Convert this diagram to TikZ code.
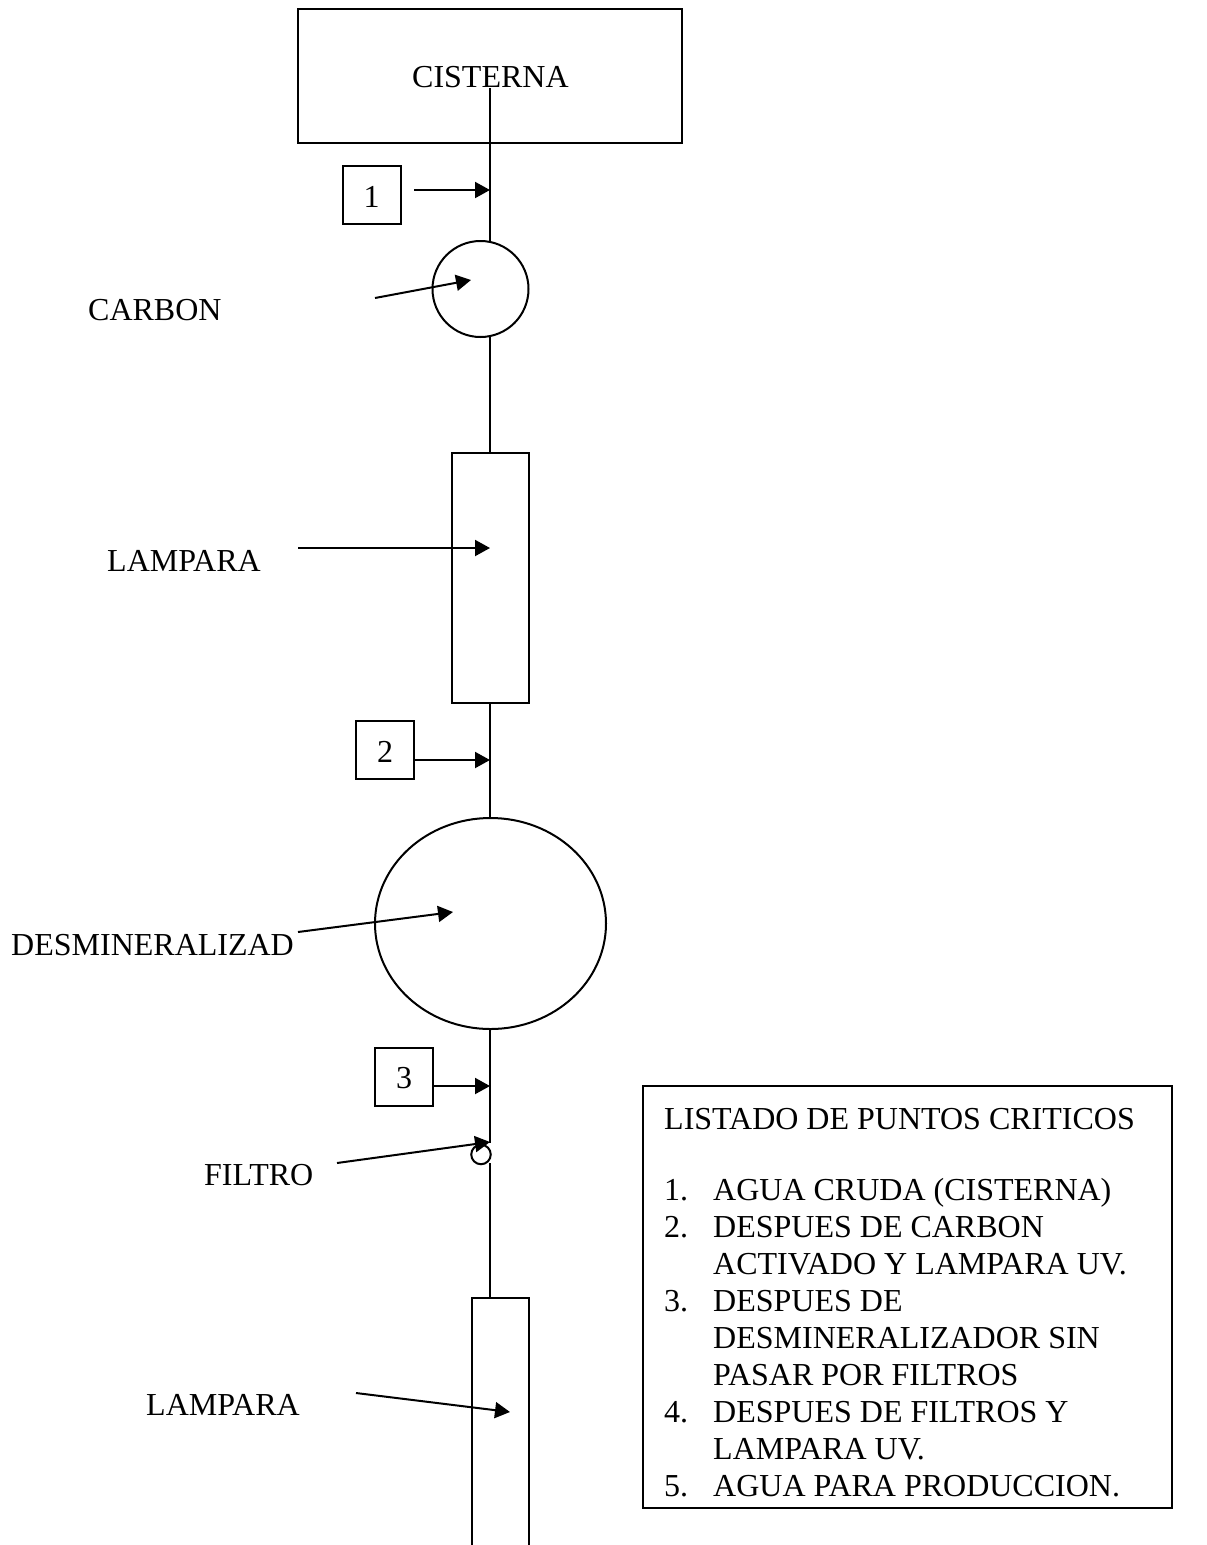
\documentclass[tikz,border=0pt]{standalone}
\usepackage{fontspec}
\setmainfont{Liberation Serif}
\usetikzlibrary{arrows.meta,shapes.geometric}
\begin{document}
\begin{tikzpicture}[x=1pt,y=-1pt,
  ln/.style={draw=black,line width=2pt},
  arr/.style={draw=black,line width=2pt,-{Triangle[length=15pt,width=16pt]}},
  lbl/.style={font=\fontsize{32}{38}\selectfont,inner sep=0pt,text=black,anchor=base west},
  shp/.style={draw=black,line width=2pt,inner sep=0pt,outer sep=0pt},
  numbox/.style={shp,minimum width=58pt,minimum height=58pt,text height=24pt,text depth=0pt,font=\fontsize{32}{38}\selectfont}]
\useasboundingbox (0,0) rectangle (1207,1545);
\fill[white] (0,0) rectangle (1207,1545);
% shapes
\node[shp,minimum width=384pt,minimum height=134pt] (cist) at (490,76) {};
\node[lbl] (cistl) at (412,87) {CISTERNA};
\node[numbox] (b1) at (371.5,195) {1};
\node[shp,circle,minimum size=96pt] (carb) at (480.5,289) {};
\node[shp,minimum width=77pt,minimum height=250pt] (lamp1) at (490.5,578) {};
\node[numbox] (b2) at (385,750) {2};
\node[shp,ellipse,minimum width=231pt,minimum height=211pt] (des) at (490.5,923.5) {};
\node[numbox] (b3) at (404,1076.5) {3};
\node[shp,circle,minimum size=19.5pt] (filt) at (481,1154.5) {};
% pipe
\coordinate (p0) at (490,88);
\coordinate (p1) at (490,241);
\coordinate (p2) at (490,337);
\coordinate (p3) at (490,453);
\coordinate (p4) at (490,703);
\coordinate (p5) at (490,818);
\coordinate (p6) at (490,1029);
\coordinate (p7) at (490,1143);
\coordinate (p8) at (490,1163);
\coordinate (p9) at (490,1298);
\draw[ln] (p0)--(p1);
\draw[ln] (p2)--(p3);
\draw[ln] (p4)--(p5);
\draw[ln] (p6)--(p7);
\draw[ln] (p8)--(p9);
% lower lamp (open at the bottom)
\coordinate (l2a) at (471.5,1545);
\coordinate (l2b) at (471.5,1298);
\coordinate (l2c) at (529,1298);
\coordinate (l2d) at (529,1545);
\draw[ln] (l2a)--(l2b)--(l2c)--(l2d);
% labels
\node[lbl] (tcarb) at (88,320) {CARBON};
\node[lbl] (tl1) at (107,571) {LAMPARA};
\node[lbl] (tdes) at (11,955) {DESMINERALIZAD};
\node[lbl] (tfil) at (204,1185) {FILTRO};
\node[lbl] (tl2) at (146,1415) {LAMPARA};
% arrows
\coordinate (a1s) at (414,190); \coordinate (a1e) at (490,190);
\coordinate (a2s) at (375,298); \coordinate (a2e) at (471,280);
\coordinate (a3s) at (298,548); \coordinate (a3e) at (490,548);
\coordinate (a4e) at (490,760);
\coordinate (a5s) at (298,932); \coordinate (a5e) at (453,912);
\coordinate (a6e) at (490,1086);
\coordinate (a7s) at (337,1163); \coordinate (a7e) at (490,1142);
\coordinate (a8s) at (356,1393); \coordinate (a8e) at (510,1412);
\draw[arr] (a1s)--(a1e);
\draw[arr] (a2s)--(a2e);
\draw[arr] (a3s)--(a3e);
\draw[arr] (b2.east |- a4e)--(a4e);
\draw[arr] (a5s)--(a5e);
\draw[arr] (b3.east |- a6e)--(a6e);
\draw[arr] (a7s)--(a7e);
\draw[arr] (a8s)--(a8e);
% list box
\node[shp,minimum width=529pt,minimum height=422pt] (list) at (907.5,1297) {};
\node[lbl] (h0) at (664,1129) {LISTADO DE PUNTOS CRITICOS};
\node[lbl] (n1) at (664,1200) {1.};
\node[lbl] (r1) at (713,1200) {AGUA CRUDA (CISTERNA)};
\node[lbl] (n2) at (664,1237) {2.};
\node[lbl] (r2) at (713,1237) {DESPUES DE CARBON};
\node[lbl] (r2b) at (713,1274) {ACTIVADO Y LAMPARA UV.};
\node[lbl] (n3) at (664,1311) {3.};
\node[lbl] (r3) at (713,1311) {DESPUES DE};
\node[lbl] (r3b) at (713,1348) {DESMINERALIZADOR SIN};
\node[lbl] (r3c) at (713,1385) {PASAR POR FILTROS};
\node[lbl] (n4) at (664,1422) {4.};
\node[lbl] (r4) at (713,1422) {DESPUES DE FILTROS Y};
\node[lbl] (r4b) at (713,1459) {LAMPARA UV.};
\node[lbl] (n5) at (664,1496) {5.};
\node[lbl] (r5) at (713,1496) {AGUA PARA PRODUCCION.};
\end{tikzpicture}
\end{document}
